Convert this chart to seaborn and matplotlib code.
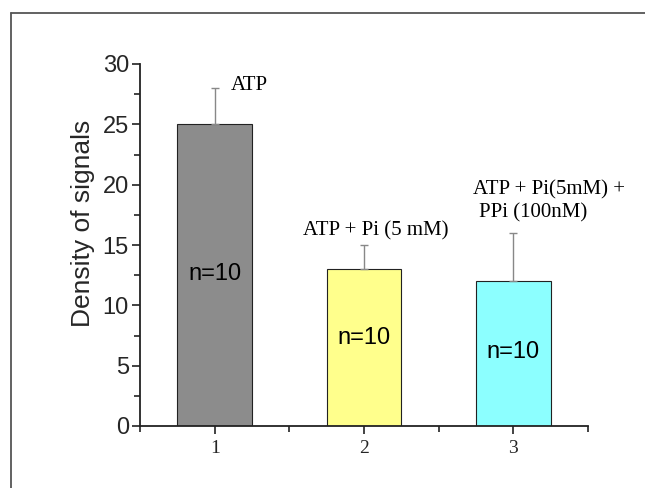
import matplotlib
matplotlib.use("Agg")
import matplotlib.pyplot as plt
import seaborn as sns
import pandas as pd
from matplotlib.lines import Line2D
from matplotlib.ticker import FixedLocator

categories = ["1", "2", "3"]
values = [25, 13, 12]
errors = [3, 2, 4]
colors = ["#8c8c8c", "#ffff8c", "#8cffff"]
n_labels = ["n=10", "n=10", "n=10"]
n_label_y = [12.6, 7.3, 6.1]
annotations = ["ATP", "ATP + Pi (5 mM)", "ATP + Pi(5mM) +", "PPi (100nM)"]
annot_x = [0.107, 0.589, 1.73, 1.77]
annot_y = [28.25, 16.2, 19.55, 17.65]

sns.set_theme(style="white")
plt.rcParams["font.family"] = ["Liberation Sans", "DejaVu Sans"]

df = pd.DataFrame({"cat": categories, "val": values})

fig = plt.figure(figsize=(6.45, 4.88), dpi=100)
ax = fig.add_axes([140/645, 1-426/488, (588-140)/645, (426-64)/488])

sns.barplot(data=df, x="cat", y="val", hue="cat", palette=colors, width=0.5,
            edgecolor="#222222", linewidth=0.8, legend=False, ax=ax, saturation=1)

ax.errorbar(range(len(values)), values, yerr=[[0]*3, errors], fmt="none",
            ecolor="#888888", elinewidth=1.0, capsize=3, capthick=1.0)

for i, (t, y) in enumerate(zip(n_labels, n_label_y)):
    ax.text(i, y, t, ha="center", va="center", fontsize=17, color="black",
            family=["Liberation Sans"])

for t, x, y in zip(annotations, annot_x, annot_y):
    ax.text(x, y, t, ha="left", va="center", fontsize=15, color="black",
            family=["Liberation Serif"])

ax.set_xlim(-0.5, 2.5)
ax.set_ylim(0, 30)
ax.set_yticks([0, 5, 10, 15, 20, 25, 30])
ax.yaxis.set_minor_locator(FixedLocator([2.5, 7.5, 12.5, 17.5, 22.5, 27.5]))
ax.xaxis.set_minor_locator(FixedLocator([-0.5, 0.5, 1.5, 2.5]))
ax.set_xticks([0, 1, 2])
ax.set_xticklabels(categories, family="Liberation Serif", fontsize=14)
for lab in ax.get_yticklabels():
    lab.set_fontsize(17)
ax.set_xlabel("")
ax.set_ylabel("Density of signals", fontsize=19, va="center")
ax.yaxis.set_label_coords((83-140)/448, (426-223)/362)

ax.tick_params(axis="both", which="major", direction="out", length=6, width=1.2,
               color="#222222", bottom=True, left=True)
ax.tick_params(axis="both", which="minor", direction="out", length=4, width=1.2,
               color="#222222", bottom=True, left=True)
ax.tick_params(axis="y", which="major", pad=2)
ax.tick_params(axis="x", which="major", pad=4)

for s in ["top", "right"]:
    ax.spines[s].set_visible(False)
for s in ["left", "bottom"]:
    ax.spines[s].set_color("#222222")
    ax.spines[s].set_linewidth(1.3)

# figure frame (left and top edges visible)
fx = 10.5/645
fy = 1 - 13/488
fig.add_artist(Line2D([fx, fx], [-0.1, fy], transform=fig.transFigure,
                      color="#555555", linewidth=1.3))
fig.add_artist(Line2D([fx, 1.1], [fy, fy], transform=fig.transFigure,
                      color="#555555", linewidth=1.3))

fig.savefig("out.png", dpi=100)
